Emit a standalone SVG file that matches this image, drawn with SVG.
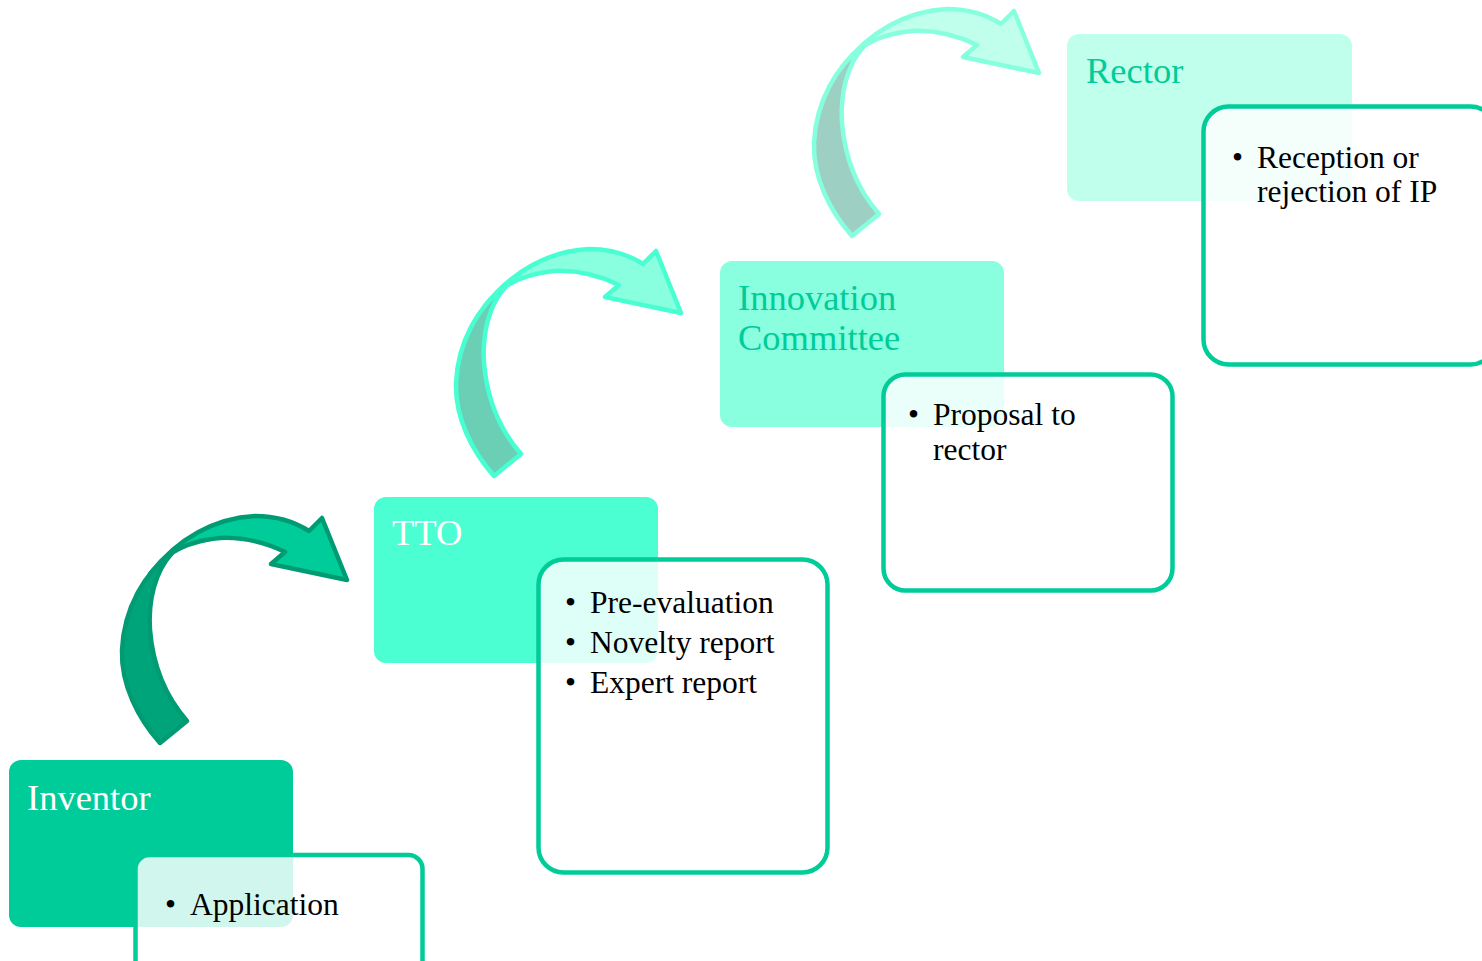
<svg xmlns="http://www.w3.org/2000/svg" xmlns:xlink="http://www.w3.org/1999/xlink" width="1482" height="961" viewBox="0 0 1482 961">
<style>
.title{font-family:"Liberation Serif","Times New Roman",serif;font-size:36.5px}
.item{font-family:"Liberation Serif","Times New Roman",serif;font-size:31.5px;fill:#000}
.detail{fill:#fff;fill-opacity:0.82;stroke:#00CC99;stroke-width:4.5}
.a1{stroke:#009B72;stroke-width:4.5;stroke-linejoin:round}
.a2{stroke:#48FFD2;stroke-width:4.5;stroke-linejoin:round}
.a3{stroke:#86FFDE;stroke-width:4.5;stroke-linejoin:round}
</style>
<defs>
<path id="band" d="M150,574 C178,538 215,518 255,516 C277,516 295,522 309,531 L322,518 L347,580 L271,564 L285,552 C262,541 240,537 220,538 C200,540 184,545 172,553 Z"/>
<path id="tail" d="M172,553 C145,572 124,608 122,650 C121,685 138,718 160,743 L187,721 C166,697 153,667 150,630 C148,600 155,572 172,553 Z"/>
</defs>
<rect width="1482" height="961" fill="#fff"/>
<g id="connectors">
<g id="arrow1">
<use xlink:href="#band" class="a1" fill="#00CC99"/>
<use xlink:href="#tail" class="a1" fill="#00A47B"/>
</g>
<g id="arrow2" transform="translate(334,-267)">
<use xlink:href="#band" class="a2" fill="#8AFFDF"/>
<use xlink:href="#tail" class="a2" fill="#6BCFB6"/>
</g>
<g id="arrow3" transform="translate(692,-507)">
<use xlink:href="#band" class="a3" fill="#C0FFEC"/>
<use xlink:href="#tail" class="a3" fill="#9DCFC2"/>
</g>
</g>
<g id="inventor">
<rect x="9" y="760" width="284" height="167" rx="12" fill="#00CC99"/>
<text x="27" y="810" class="title" fill="#fff">Inventor</text>
<rect x="135.5" y="855" width="287" height="130" rx="14" class="detail"/>
<text x="165" y="915" class="item">•</text>
<text x="190" y="915" class="item">Application</text>
</g>
<g id="tto">
<rect x="374" y="497" width="284" height="166" rx="12" fill="#4BFFD2"/>
<text x="392" y="545" class="title" fill="#fff">TTO</text>
<rect x="538.5" y="559.5" width="289" height="313" rx="25" class="detail"/>
<text x="565" y="613" class="item">•</text>
<text x="590" y="613" class="item">Pre-evaluation</text>
<text x="565" y="653" class="item">•</text>
<text x="590" y="653" class="item">Novelty report</text>
<text x="565" y="693" class="item">•</text>
<text x="590" y="693" class="item">Expert report</text>
</g>
<g id="innovation-committee">
<rect x="720" y="261" width="284" height="166" rx="12" fill="#8AFFDF"/>
<text x="738" y="310" class="title" fill="#00CC99">Innovation</text>
<text x="738" y="350" class="title" fill="#00CC99">Committee</text>
<rect x="883.5" y="374.5" width="289" height="216" rx="22" class="detail"/>
<text x="908" y="425" class="item">•</text>
<text x="933" y="425" class="item">Proposal to</text>
<text x="933" y="460" class="item">rector</text>
</g>
<g id="rector">
<rect x="1067" y="34" width="285" height="167" rx="12" fill="#C0FFEC"/>
<text x="1086" y="83" class="title" fill="#00CC99">Rector</text>
<rect x="1203.5" y="106.5" width="292" height="258" rx="25" class="detail"/>
<text x="1232" y="168" class="item">•</text>
<text x="1257" y="168" class="item">Reception or</text>
<text x="1257" y="202" class="item">rejection of IP</text>
</g>
</svg>
